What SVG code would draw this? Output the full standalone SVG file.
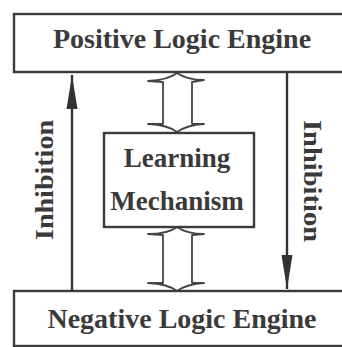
<svg xmlns="http://www.w3.org/2000/svg" width="342" height="347" viewBox="0 0 342 347">
<defs>
<style>
.box{fill:#ffffff;stroke:#3a3a3a;stroke-width:2.4}
.lbl{font-family:"Liberation Serif","Times New Roman",serif;font-weight:bold;fill:#3a3a3a}
.line{fill:none;stroke:#333333;stroke-width:2.4}
.hollow{fill:#ffffff;stroke:#444444;stroke-width:1.8;stroke-linejoin:round}
</style>
<marker id="ah" viewBox="0 -6 36 12" markerWidth="36" markerHeight="12" refX="34" refY="0" markerUnits="userSpaceOnUse" orient="auto">
<path d="M0,-5.5 L34,0 L0,5.5 Z" fill="#333333"/>
</marker>
</defs>
<rect width="342" height="347" fill="#ffffff"/>
<g id="connectors">
<path class="line" d="M72,291 L72,75" marker-end="url(#ah)"/>
<path class="line" d="M287,72 L287,289" marker-end="url(#ah)"/>
<path class="hollow" d="M163,124 L163,82 L148,81 Q168,80 177,73 Q187,80 204,80 L192,82 L192,124 L204,124 Q187,125 177,132 Q168,125 148,124 Z"/>
<path class="hollow" d="M163,283 L163,235 L148,234 Q168,234 177,227 Q187,234 204,234 L192,235 L192,283 L204,283 Q187,284 177,291 Q168,284 148,283 Z"/>
<text class="lbl" font-size="26" text-anchor="middle" textLength="120" lengthAdjust="spacingAndGlyphs" transform="translate(53,180) rotate(-90)">Inhibition</text>
<text class="lbl" font-size="26" text-anchor="middle" textLength="122" lengthAdjust="spacingAndGlyphs" transform="translate(304,181) rotate(90)">Inhibition</text>
</g>
<g id="positive">
<rect class="box" x="14" y="14" width="340" height="58"/>
<text class="lbl" x="182" y="48" font-size="28" text-anchor="middle">Positive Logic Engine</text>
</g>
<g id="learning">
<rect class="box" x="104" y="133" width="150" height="94"/>
<text class="lbl" x="177" y="167" font-size="27" text-anchor="middle">Learning</text>
<text class="lbl" x="177" y="210" font-size="27" text-anchor="middle">Mechanism</text>
</g>
<g id="negative">
<rect class="box" x="14" y="291" width="340" height="55"/>
<text class="lbl" x="182" y="328" font-size="28" text-anchor="middle">Negative Logic Engine</text>
</g>
</svg>
